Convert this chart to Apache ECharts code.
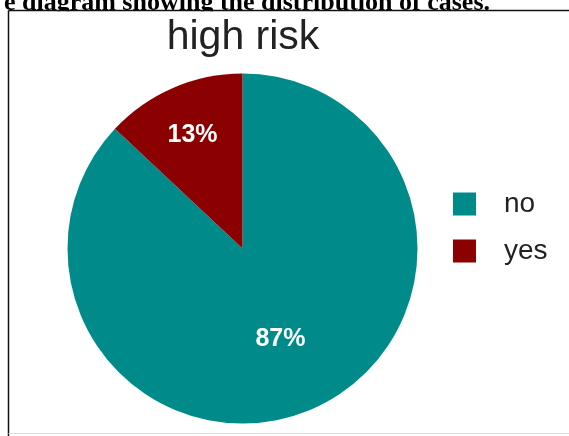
<!DOCTYPE html>
<html>
<head>
<meta charset="utf-8">
<script src="https://cdn.jsdelivr.net/npm/echarts@6/dist/echarts.min.js"></script>
<style>
  html, body { margin: 0; padding: 0; background: #fff; }
  #chart { width: 569px; height: 436px; }
</style>
</head>
<body>
<div id="chart"></div>
<script>
// Share of high-risk cases
const categories = ['no', 'yes'];
const shares = [87, 13];
const sliceColors = ['#008b8b', '#8b0000'];
// nudges for the in-slice percentage labels
const labelOffsets = [[2, 8], [-14, -30]];

const chart = echarts.init(document.getElementById('chart'), null, { renderer: 'canvas' });

chart.setOption({
  backgroundColor: '#ffffff',
  animation: false,
  title: {
    text: 'high risk',
    left: 238,
    top: 12,
    textAlign: 'center',
    textStyle: {
      fontFamily: 'Liberation Sans, Arial, sans-serif',
      fontSize: 41,
      fontWeight: 'normal',
      color: '#222'
    }
  },
  legend: {
    orient: 'vertical',
    left: 453,
    top: 190,
    itemWidth: 23,
    itemHeight: 23,
    itemGap: 19,
    padding: 0,
    icon: 'rect',
    data: categories,
    textStyle: {
      fontFamily: 'Liberation Sans, Arial, sans-serif',
      fontSize: 28,
      lineHeight: 23,
      color: '#222',
      padding: [0, 0, 0, 23]
    }
  },
  graphic: [
    {
      type: 'text',
      x: 490,
      y: 16.5,
      z: 1,
      style: {
        text: 'e diagram showing the distribution of cases.',
        font: 'bold 26px "Liberation Serif", "Times New Roman", serif',
        fill: '#000',
        align: 'right',
        verticalAlign: 'bottom'
      }
    },
    {
      type: 'rect',
      z: 2,
      shape: { x: 9, y: 11.2, width: 560, height: 12 },
      style: { fill: '#fff' }
    },
    {
      type: 'line',
      z: 3,
      shape: { x1: 8.5, y1: 10.5, x2: 569, y2: 10.5 },
      style: { stroke: '#111', lineWidth: 1.5 }
    },
    {
      type: 'line',
      z: 3,
      shape: { x1: 8.5, y1: 10.5, x2: 8.5, y2: 436 },
      style: { stroke: '#111', lineWidth: 1.5 }
    },
    {
      type: 'line',
      z: 3,
      shape: { x1: 8.5, y1: 433.5, x2: 569, y2: 433.5 },
      style: { stroke: '#ddd', lineWidth: 1 }
    }
  ],
  series: [
    {
      type: 'pie',
      center: [242.5, 248.5],
      radius: [0, 175],
      startAngle: 90,
      clockwise: true,
      avoidLabelOverlap: false,
      label: {
        show: true,
        position: 'inside',
        formatter: '{c}%',
        color: '#fff',
        fontFamily: 'Liberation Sans, Arial, sans-serif',
        fontWeight: 'bold',
        fontSize: 25
      },
      labelLine: { show: false },
      itemStyle: { borderWidth: 0 },
      emphasis: { disabled: true },
      data: categories.map((name, i) => ({
        name,
        value: shares[i],
        itemStyle: { color: sliceColors[i] },
        label: { offset: labelOffsets[i] }
      }))
    }
  ]
});
</script>
</body>
</html>
